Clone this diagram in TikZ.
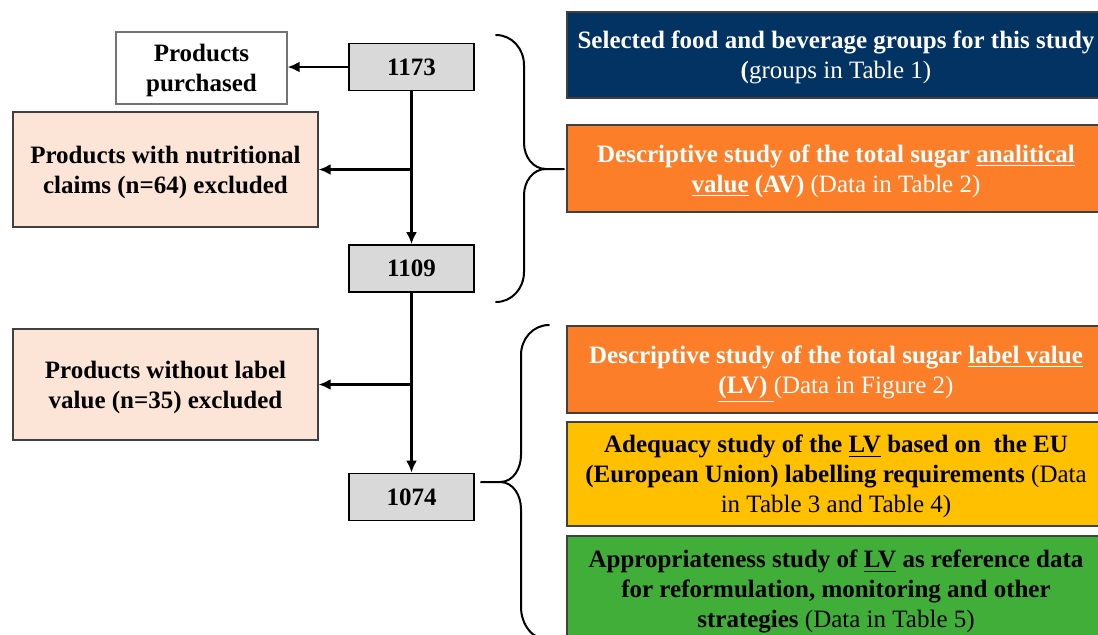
\documentclass[tikz,border=0pt]{standalone}
\usepackage{fontspec}
\setmainfont{Liberation Serif}
\usetikzlibrary{arrows.meta}
\definecolor{navyBox}{RGB}{3,51,99}
\definecolor{orangeBox}{RGB}{252,126,40}
\definecolor{yellowBox}{RGB}{255,192,0}
\definecolor{greenBox}{RGB}{66,174,58}
\definecolor{peachBox}{RGB}{252,228,214}
\definecolor{countGrey}{RGB}{217,217,217}

\begin{document}
\begin{tikzpicture}[x=0.5pt, y=-0.5pt,
    font=\fontsize{12.5}{15}\selectfont\bfseries,
    every node/.style={text depth=-0.5pt},
    count/.style={draw, line width=0.9pt, fill=countGrey, minimum width=62.5pt, minimum height=23.5pt, inner sep=0pt},
    excl/.style={draw=black!75, line width=0.6pt, fill=peachBox, minimum width=152.5pt, align=center, inner sep=0pt},
    study/.style={draw=black!75, line width=0.6pt, minimum width=269pt, align=center, inner sep=0pt},
    flow/.style={line width=1.4pt, -{Latex[length=6pt,width=5.5pt]}},
    curly/.style={line width=1pt, line cap=round}]
        \useasboundingbox (0,0) rectangle (1098,634);
        % counts and exclusions
        \node[draw=black!55, line width=0.6pt, fill=white, minimum width=85.5pt, minimum height=36pt, align=center, inner sep=0pt] (purch) at (201.5,68) {Products\\purchased};
        \node[count] (n1173) at (411.5,67) {1173};
        \node[excl, minimum height=57.5pt] (claims) at (165.5,169.5) {Products with nutritional\\claims (n=64) excluded};
        \node[count] (n1109) at (411.5,268.5) {1109};
        \node[excl, minimum height=55.5pt] (nolabel) at (165.5,384.5) {Products without label\\value (n=35) excluded};
        \node[count] (n1074) at (411.5,497) {1074};
        % studies
        \node[study, fill=navyBox, text=white, minimum height=43pt] (groups) at (836,55) {Selected food and beverage groups for this study\\({\mdseries groups in Table 1)}};
        \node[study, fill=orangeBox, text=white, minimum height=43.5pt] (av) at (836,168.5) {Descriptive study of the total sugar \underline{analitical}\\\underline{value} (AV) {\mdseries (Data in Table 2)}};
        \node[study, fill=orangeBox, text=white, minimum height=43.5pt] (lv) at (836,369.5) {Descriptive study of the total sugar \underline{label value}\\\underline{(LV) }{\mdseries (Data in Figure 2)}};
        \node[study, fill=yellowBox, minimum height=52pt] (eu) at (836,474) {Adequacy study of the \underline{LV} based on\ \ the EU\\(European Union) labelling requirements {\mdseries (Data}\\{\mdseries in Table 3 and Table 4)}};
        \node[study, fill=greenBox, minimum height=53pt] (ref) at (836,589) {Appropriateness study of \underline{LV} as reference data\\for reformulation, monitoring and other\\strategies {\mdseries (Data in Table 5)}};
        % arrows
        \draw[flow] (n1173.west) -- (n1173.west -| purch.east);
        \draw[flow] (n1173) -- (n1109);
        \draw[flow] (n1173.south |- claims.east) -- (claims.east);
        \draw[flow] (n1109) -- (n1074);
        \draw[flow] (n1109.south |- nolabel.east) -- (nolabel.east);
        % braces
        \draw[curly] (496,35) to[out=0,in=90] (524,65) -- (524,143) to[out=-90,in=180] (546,169) -- (564,169);
        \draw[curly] (546,169) to[out=180,in=90] (524,195) -- (524,272) to[out=-90,in=0] (496,302);
        \draw[curly] (549,325) to[out=180,in=90] (521,355) -- (521,455) to[out=-90,in=0] (500,482) -- (481,482);
        \draw[curly] (500,482) to[out=0,in=90] (521,509) -- (521,607) to[out=-90,in=180] (549,640);
      \end{tikzpicture}
\end{document}
